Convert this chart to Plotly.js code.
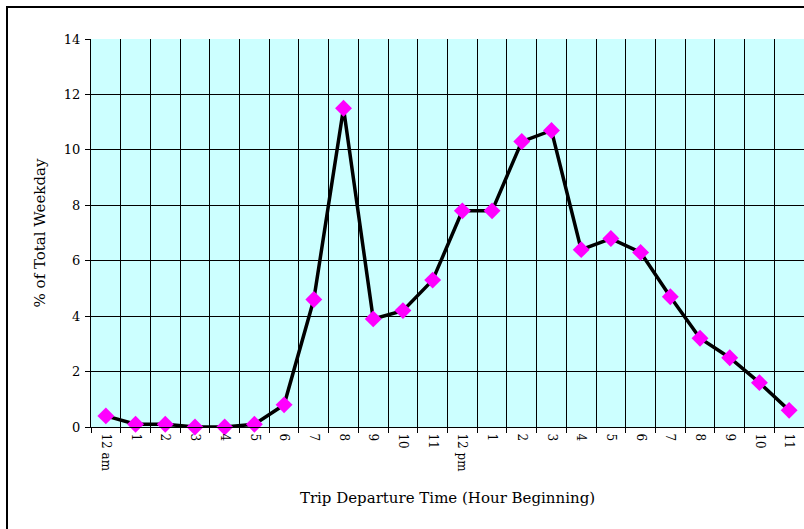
<!DOCTYPE html>
<html>
<head>
<meta charset="utf-8">
<script src="https://cdn.plot.ly/plotly-3.0.1.min.js"></script>
<style>
html,body{margin:0;padding:0;background:#fff;}
#wrap{position:relative;width:804px;height:529px;overflow:hidden;}
#chart{position:absolute;left:0;top:0;width:804px;height:529px;}
#frame{position:absolute;left:6px;top:6px;width:820px;height:540px;border:2px solid #000;box-sizing:border-box;pointer-events:none;}
</style>
</head>
<body>
<div id="wrap"><div id="chart"></div><div id="frame"></div></div>
<script>
const hourKeys = ["12 am","1 am","2 am","3 am","4 am","5 am","6 am","7 am","8 am","9 am","10 am","11 am",
                  "12 pm","1 pm","2 pm","3 pm","4 pm","5 pm","6 pm","7 pm","8 pm","9 pm","10 pm","11 pm"];
const tickLabels = ["12 am","1","2","3","4","5","6","7","8","9","10","11",
                    "12 pm","1","2","3","4","5","6","7","8","9","10","11"];
const pctWeekday = [0.4,0.1,0.1,0.0,0.0,0.1,0.8,4.6,11.5,3.9,4.2,5.3,
                    7.8,7.8,10.3,10.7,6.4,6.8,6.3,4.7,3.2,2.5,1.6,0.6];
const yTicks = [0,2,4,6,8,10,12,14];

const font = "DejaVu Serif, Liberation Serif, serif";

Plotly.newPlot("chart", [{
  type: "scatter",
  mode: "lines+markers",
  x: hourKeys,
  y: pctWeekday,
  cliponaxis: false,
  line: {color: "#000000", width: 3.5},
  marker: {symbol: "diamond", size: 13, color: "#FF00FF", line: {width: 0}},
  hoverinfo: "skip"
}], {
  width: 804, height: 529,
  margin: {l: 91, r: 0, t: 39, b: 102, pad: 0},
  paper_bgcolor: "#ffffff",
  plot_bgcolor: "#CCFFFF",
  showlegend: false,
  font: {family: font, size: 12, color: "#000"},
  xaxis: {
    type: "category",
    range: [-0.5, 23.5],
    tickmode: "array",
    tickvals: hourKeys,
    ticktext: tickLabels,
    tickangle: 90,
    tickson: "boundaries",
    ticks: "outside", ticklen: 5, tickwidth: 1, tickcolor: "#000",
    ticklabelstandoff: 3,
    showgrid: true, gridcolor: "#000", gridwidth: 1,
    showline: true, linecolor: "#000", linewidth: 1,
    zeroline: false,
    tickfont: {family: font, size: 12},
    title: {text: "Trip Departure Time (Hour Beginning)", font: {family: font, size: 15}, standoff: 21}
  },
  yaxis: {
    range: [0, 14],
    tickmode: "array",
    tickvals: yTicks,
    ticks: "outside", ticklen: 5, tickwidth: 1, tickcolor: "#000",
    ticklabelstandoff: 2,
    showgrid: true, gridcolor: "#000", gridwidth: 1,
    showline: true, linecolor: "#000", linewidth: 1,
    zeroline: false,
    tickfont: {family: font, size: 13},
    title: {text: "% of Total Weekday", font: {family: font, size: 15}, standoff: 14}
  }
}, {staticPlot: true});
</script>
</body>
</html>
